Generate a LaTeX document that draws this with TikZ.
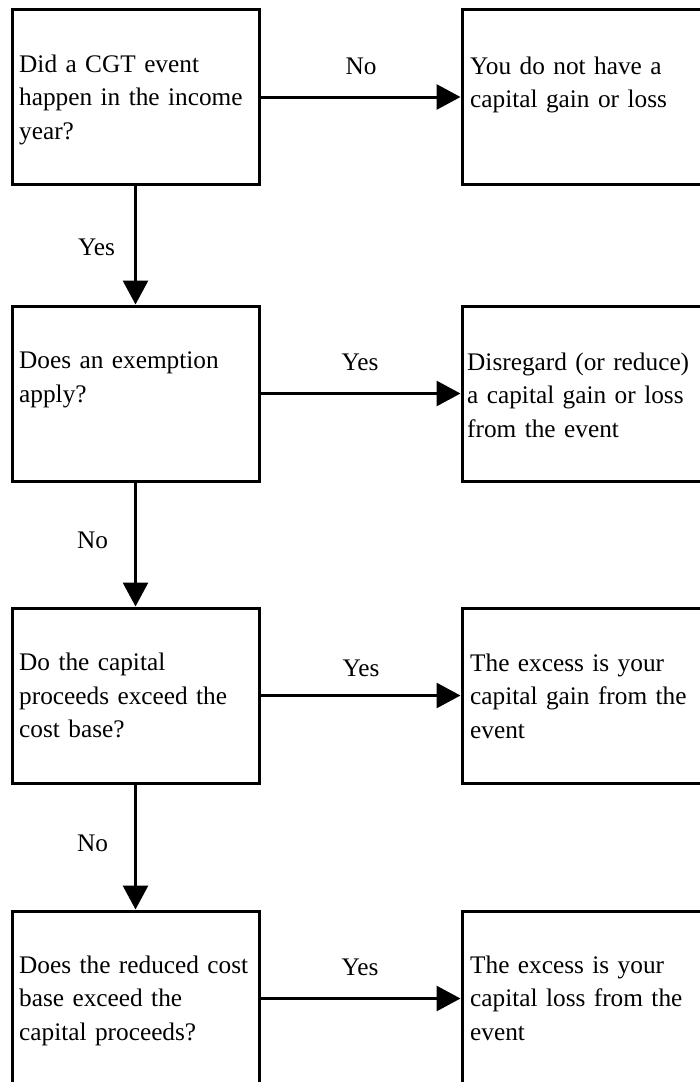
\documentclass[tikz,border=0pt]{standalone}
\usepackage{fontspec}
\setmainfont{Liberation Serif}
\usetikzlibrary{arrows.meta}
\tikzset{
  box/.style={draw, rectangle, line width=3pt, minimum width=247pt, minimum height=175pt, inner sep=0pt},
  rbox/.style={draw, rectangle, line width=3pt, minimum width=260pt, minimum height=175pt, inner sep=0pt},
  txt/.style={anchor=north west, inner sep=0pt, text width=245pt, align=left, font=\fontsize{25.3}{33.5}\selectfont},
  lab/.style={inner sep=0pt, font=\fontsize{25.3}{33.5}\selectfont},
  conn/.style={line width=3pt, -{Triangle[length=24pt,width=25pt]}}
}
\newcommand{\firstline}{\rule{0pt}{20pt}}
\begin{document}
\begin{tikzpicture}[x=1pt,y=-1pt]
\clip (0,0) rectangle (700,1082);
\fill[white] (0,0) rectangle (700,1082);
% left boxes
\node[box] (q1) at (135.5,97) {};
\node[box] (q2) at (135.5,393.5) {};
\node[box] (q3) at (135.5,695.5) {};
\node[box] (q4) at (135.5,998.5) {};
% right boxes
\node[rbox] (r1) at (592,97) {};
\node[rbox] (r2) at (592,393.5) {};
\node[rbox] (r3) at (592,695.5) {};
\node[rbox] (r4) at (592,998.5) {};
% texts
\node[txt] (tq1) at (19,52) {\firstline Did a CGT event\\happen in the income\\year?};
\node[txt] (tr1) at (470,54) {\firstline You do not have a\\capital gain or loss};
\node[txt] (tq2) at (19,348.5) {\firstline Does an exemption\\apply?};
\node[txt] (tr2) at (467,350) {\firstline Disregard (or reduce)\\a capital gain or loss\\from the event};
\node[txt] (tq3) at (19,650.5) {\firstline Do the capital\\proceeds exceed the\\cost base?};
\node[txt] (tr3) at (470,651) {\firstline The excess is your\\capital gain from the\\event};
\node[txt] (tq4) at (19,953) {\firstline Does the reduced cost\\base exceed the\\capital proceeds?};
\node[txt] (tr4) at (470,953) {\firstline The excess is your\\capital loss from the\\event};
% connectors
\draw[conn] (q1) -- (r1);
\draw[conn] (q2) -- (r2);
\draw[conn] (q3) -- (r3);
\draw[conn] (q4) -- (r4);
\draw[conn] (q1) -- (q2);
\draw[conn] (q2) -- (q3);
\draw[conn] (q3) -- (q4);
% labels
\node[lab, anchor=base] (l1) at (361,74) {No};
\node[lab, anchor=base] (l2) at (360,370) {Yes};
\node[lab, anchor=base] (l3) at (361,676) {Yes};
\node[lab, anchor=base] (l4) at (360,975) {Yes};
\node[lab, anchor=base west] (v1) at (78,255) {Yes};
\node[lab, anchor=base west] (v2) at (77,548) {No};
\node[lab, anchor=base west] (v3) at (77,851) {No};
\end{tikzpicture}
\end{document}
